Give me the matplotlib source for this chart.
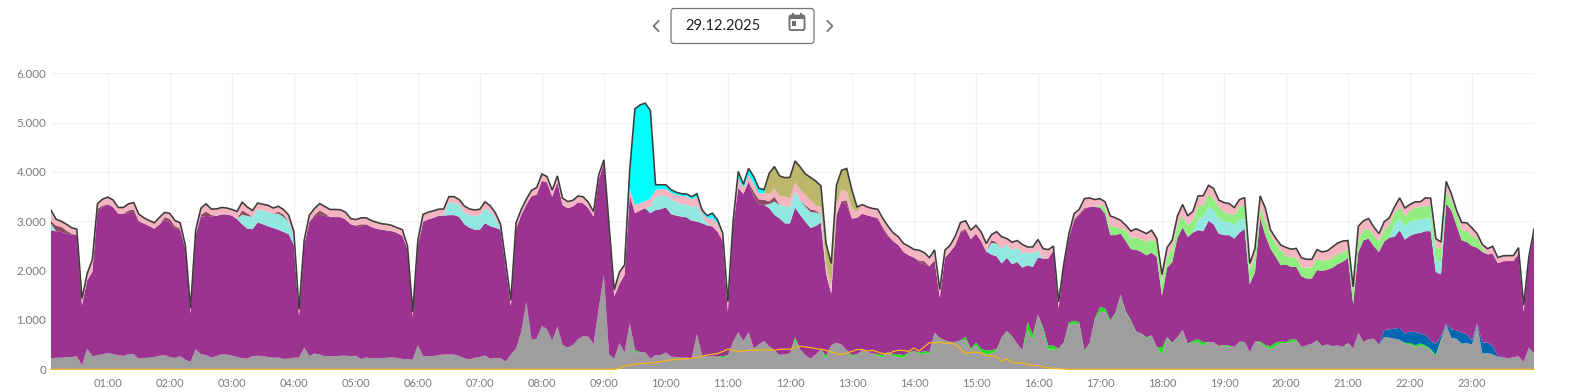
#!/usr/bin/env python3
"""Stacked power generation for one day (5 minute values), with date picker above."""

import matplotlib
matplotlib.use('Agg')
import matplotlib.pyplot as plt
import numpy as np
from matplotlib.patches import FancyBboxPatch, Rectangle

plt.rcParams['font.family'] = ['Lato', 'DejaVu Sans']

DATE_TEXT = '29.12.2025'
HOUR_LABELS = [f'{h:02d}:00' for h in range(1, 24)]
Y_TICKS = [0, 1000, 2000, 3000, 4000, 5000, 6000]
Y_LABELS = ['0', '1.000', '2.000', '3.000', '4.000', '5.000', '6.000']

# one row per hour, 12 values each: hh:05 ... hh+1:00
total = [
    3225, 3040, 3000, 2940, 2870, 2840, 1433, 1940, 2225, 3360, 3450, 3490,
    3435, 3280, 3280, 3355, 3380, 3145, 3070, 3015, 2970, 3080, 3180, 3160,
    3015, 2970, 2515, 1235, 2820, 3265, 3355, 3250, 3250, 3280, 3270, 3240,
    3200, 3390, 3290, 3220, 3370, 3345, 3325, 3270, 3305, 3240, 3125, 2790,
    1210, 2620, 3125, 3260, 3360, 3300, 3240, 3240, 3235, 3185, 3055, 3035,
    3070, 3070, 3015, 2980, 2950, 2940, 2915, 2870, 2830, 2495, 1165, 2620,
    3140, 3185, 3210, 3245, 3250, 3500, 3500, 3440, 3310, 3250, 3230, 3245,
    3395, 3315, 3170, 2940, 2180, 1400, 2970, 3240, 3450, 3630, 3685, 3960,
    3905, 3630, 3920, 3470, 3400, 3425, 3515, 3495, 3385, 3195, 3940, 4245,
    2930, 1610, 1970, 2115, 4040, 5280, 5360, 5395, 5245, 3740, 3740, 3740,
    3640, 3590, 3560, 3555, 3500, 3560, 3230, 3115, 3165, 3030, 2760, 1370,
    2995, 4010, 3750, 4075, 3905, 3670, 3640, 3975, 4110, 3920, 3885, 3890,
    4225, 4100, 3960, 3890, 3815, 3720, 2550, 2145, 3730, 4035, 4070, 3630,
    3290, 3340, 3290, 3260, 3245, 3055, 2900, 2765, 2685, 2550, 2495, 2430,
    2415, 2365, 2265, 2420, 1615, 2415, 2515, 2700, 2975, 3010, 2820, 2920,
    2785, 2550, 2730, 2790, 2685, 2650, 2575, 2610, 2530, 2480, 2480, 2630,
    2445, 2425, 2495, 1365, 2140, 2750, 3155, 3245, 3460, 3475, 3440, 3460,
    3395, 3110, 3070, 3020, 2920, 2800, 2850, 2800, 2750, 2820, 2650, 1920,
    2470, 2620, 3110, 3340, 3110, 3205, 3515, 3520, 3730, 3665, 3430, 3380,
    3360, 3280, 3440, 3480, 2145, 2450, 3515, 3270, 2830, 2660, 2520, 2470,
    2435, 2450, 2260, 2230, 2230, 2425, 2380, 2400, 2480, 2560, 2600, 2610,
    1670, 2900, 3010, 3055, 2885, 2750, 2990, 3070, 3290, 3475, 3270, 3340,
    3395, 3395, 3475, 3470, 2650, 2580, 3810, 3560, 3225, 2975, 2970, 2865,
    2750, 2530, 2445, 2495, 2265, 2300, 2305, 2305, 2465, 1300, 2280, 2840,
]

gray = [
    215, 235, 235, 250, 250, 265, 80, 420, 265, 285, 305, 330,
    310, 285, 270, 305, 305, 215, 230, 235, 250, 275, 285, 250,
    230, 265, 195, 150, 405, 305, 290, 235, 270, 300, 300, 275,
    250, 225, 215, 265, 275, 265, 250, 235, 240, 210, 215, 235,
    235, 440, 270, 320, 300, 265, 265, 265, 275, 275, 265, 275,
    205, 240, 225, 225, 225, 235, 240, 230, 210, 205, 195, 490,
    270, 265, 265, 290, 300, 300, 300, 270, 225, 200, 235, 250,
    280, 215, 225, 225, 160, 300, 420, 755, 1365, 600, 620, 880,
    810, 575, 865, 495, 440, 495, 610, 670, 660, 515, 1235, 1915,
    305, 210, 530, 345, 935, 345, 350, 345, 215, 290, 290, 340,
    255, 250, 235, 235, 225, 715, 290, 255, 270, 255, 225, 275,
    560, 750, 575, 750, 425, 505, 575, 460, 390, 290, 305, 320,
    590, 400, 285, 215, 300, 400, 215, 485, 540, 500, 385, 250,
    305, 385, 350, 320, 270, 250, 350, 265, 250, 235, 330, 360,
    305, 320, 320, 745, 640, 590, 555, 555, 590, 590, 400, 485,
    350, 305, 320, 385, 655, 755, 655, 520, 385, 790, 600, 1110,
    790, 400, 400, 420, 535, 910, 925, 910, 350, 535, 995, 1165,
    1165, 960, 1130, 1515, 1140, 975, 755, 725, 620, 690, 455, 305,
    635, 520, 655, 805, 520, 535, 555, 475, 555, 550, 475, 480,
    455, 455, 560, 555, 350, 560, 535, 465, 405, 470, 525, 535,
    555, 570, 455, 485, 520, 575, 455, 505, 470, 485, 455, 520,
    420, 735, 555, 610, 620, 485, 655, 640, 620, 600, 520, 505,
    455, 485, 455, 385, 265, 590, 910, 635, 620, 520, 535, 500,
    910, 320, 330, 305, 250, 240, 225, 240, 265, 150, 440, 320,
]

green = [0] * 12 * 9 + [
    0, 0, 0, 0, 0, 50, 0, 0, 0, 0, 0, 0,
    0, 0, 0, 0, 0, 0, 0, 0, 0, 0, 40, 10,
    0, 0, 0, 0, 0, 0, 0, 0, 0, 0, 0, 0,
    65, 0, 0, 0, 0, 0, 60, 0, 0, 0, 0, 40,
    0, 0, 0, 0, 40, 40, 0, 40, 60, 50, 15, 10,
    35, 50, 30, 0, 0, 0, 0, 0, 0, 70, 20, 60,
    70, 75, 70, 20, 0, 20, 10, 0, 0, 170, 100, 0,
    60, 80, 80, 0, 10, 40, 60, 40, 30, 0, 30, 100,
    70, 30, 20, 0, 30, 20, 10, 0, 30, 0, 0, 135,
    20, 15, 0, 0, 0, 40, 60, 70, 0, 0, 0, 15,
    25, 0, 0, 0, 0, 0, 30, 30, 60, 70, 40, 20,
    60, 30, 0, 0, 0, 10, 15, 0, 0, 0, 0, 15,
    0, 0, 0, 0, 0, 10, 0, 0, 0, 0, 15, 30,
    30, 40, 35, 30, 30, 15, 0, 0, 0, 0, 0, 0,
    0, 0, 0, 0, 0, 0, 0, 0, 0, 0, 0, 0,
]

blue = [0] * 12 * 21 + [
    0, 0, 0, 0, 0, 0, 135, 170, 205, 240, 190, 230,
    270, 205, 205, 170, 220, 70, 20, 175, 170, 225, 175, 90,
    20, 225, 210, 170, 15, 5, 0, 0, 0, 0, 0, 0,
]

turquoise = [
    130, 0, 0, 0, 0, 0, 0, 0, 0, 0, 0, 0,
    0, 0, 0, 0, 0, 0, 0, 0, 0, 0, 0, 0,
    0, 0, 0, 0, 0, 0, 0, 0, 0, 0, 0, 0,
    10, 195, 260, 250, 260, 280, 290, 290, 325, 305, 250, 150,
    0, 0, 0, 0, 0, 0, 0, 0, 0, 0, 0, 0,
    0, 0, 0, 0, 0, 0, 0, 0, 0, 0, 0, 0,
    0, 0, 0, 0, 10, 255, 255, 235, 235, 255, 280, 295,
    295, 305, 205, 10, 0, 0, 0, 0, 0, 0, 0, 0,
    0, 0, 0, 0, 0, 0, 0, 0, 0, 0, 0, 0,
    0, 0, 0, 0, 0, 0, 0, 0, 135, 270, 270, 230,
    305, 270, 250, 255, 290, 315, 155, 35, 0, 0, 0, 0,
    0, 0, 0, 0, 0, 0, 0, 85, 270, 270, 350, 325,
    320, 305, 305, 325, 275, 170, 0, 0, 0, 0, 0, 0,
    0, 0, 0, 0, 0, 0, 0, 0, 0, 0, 0, 0,
    0, 0, 0, 0, 0, 0, 0, 0, 0, 0, 0, 0,
    0, 15, 235, 260, 305, 270, 280, 295, 285, 260, 270, 150,
    0, 0, 0, 0, 0, 0, 0, 0, 0, 0, 0, 0,
    0, 0, 0, 0, 0, 0, 0, 0, 0, 0, 0, 0,
    0, 0, 0, 0, 0, 0, 235, 290, 285, 285, 305, 270,
    270, 275, 270, 190, 0, 0, 0, 0, 0, 0, 0, 0,
    0, 0, 0, 0, 0, 0, 0, 0, 0, 0, 0, 0,
    0, 0, 0, 0, 0, 0, 0, 0, 255, 235, 270, 285,
    270, 275, 255, 255, 235, 250, 0, 0, 0, 0, 0, 0,
    0, 0, 0, 0, 0, 0, 0, 0, 0, 0, 0, 0,
]

light_green = [0] * 12 * 16 + [
    0, 0, 0, 0, 0, 0, 0, 0, 0, 0, 0, 50,
    135, 185, 165, 100, 220, 230, 245, 250, 270, 285, 270, 280,
    220, 275, 250, 250, 235, 250, 250, 235, 250, 235, 240, 200,
    165, 200, 255, 285, 275, 310, 215, 280, 275, 275, 310, 175,
    190, 190, 190, 220, 220, 235, 215, 190, 205, 200, 190, 175,
    250, 250, 205, 190, 225, 220, 235, 250, 215, 235, 210, 220,
    260, 250, 250, 255, 270, 255, 235, 205, 235, 205, 220, 205,
    185, 90, 0, 0, 0, 0, 0, 0, 0, 0, 0, 0,
]

maroon = [
    60, 110, 105, 60, 20, 0, 0, 0, 0, 70, 30, 0,
    0, 0, 0, 50, 70, 20, 0, 0, 0, 0, 50, 80,
    50, 20, 0, 0, 0, 40, 90, 30, 0, 0, 0, 0,
    0, 90, 50, 0, 0, 0, 0, 0, 40, 50, 0, 0,
    0, 0, 0, 20, 85, 50, 0, 0, 0, 0, 0, 15,
    40, 0, 0, 0, 0, 0, 0, 0, 0, 0, 0, 0,
    0, 0, 0, 0, 0, 0, 0, 0, 0, 0, 0, 0,
    0, 0, 0, 0, 0, 0, 0, 0, 0, 0, 0, 0,
    0, 0, 0, 0, 0, 0, 0, 0, 0, 0, 0, 0,
    0, 0, 0, 0, 0, 0, 0, 0, 0, 0, 0, 0,
    0, 0, 0, 0, 0, 0, 0, 0, 0, 0, 0, 0,
    0, 0, 0, 0, 100, 100, 105, 55, 100, 0, 0, 0,
    0, 0, 30, 50, 40, 0, 0, 0, 0, 0, 100, 0,
    0, 0, 0, 0, 20, 30, 25, 0, 0, 0, 0, 0,
    30, 60, 0, 0, 0, 0, 0, 0, 30, 30, 0, 0,
    0, 0, 60, 20, 0, 0, 0, 0, 0, 0, 0, 0,
    0, 0, 0, 0, 0, 0, 30, 30, 30, 0, 0, 0,
] + [0] * 12 * 7

pink = [
    215, 130, 110, 130, 120, 115, 135, 140, 250, 110, 130, 145,
    145, 125, 125, 135, 140, 135, 115, 110, 120, 145, 95, 115,
    115, 120, 70, 105, 100, 135, 155, 120, 140, 140, 130, 125,
    145, 165, 130, 130, 130, 125, 135, 115, 110, 100, 135, 120,
    135, 105, 135, 130, 140, 140, 150, 155, 150, 145, 115, 120,
    130, 130, 130, 130, 120, 125, 115, 105, 125, 60, 105, 105,
    150, 145, 140, 135, 125, 120, 120, 115, 135, 125, 120, 120,
    135, 110, 95, 100, 105, 120, 120, 115, 110, 120, 145, 140,
    120, 130, 130, 140, 135, 125, 130, 130, 120, 100, 100, 60,
    70, 135, 240, 200, 120, 165, 145, 150, 155, 135, 135, 140,
    130, 150, 170, 170, 150, 180, 70, 110, 165, 170, 125, 200,
    105, 200, 115, 135, 170, 125, 135, 145, 170, 185, 190, 180,
    185, 215, 205, 190, 105, 135, 170, 130, 200, 215, 180, 205,
    120, 185, 170, 170, 170, 175, 180, 165, 170, 170, 185, 165,
    210, 175, 175, 210, 160, 155, 135, 185, 180, 160, 185, 170,
    185, 150, 110, 220, 235, 120, 165, 140, 185, 110, 135, 215,
    200, 180, 80, 135, 30, 80, 115, 90, 190, 185, 150, 130,
    105, 205, 185, 170, 100, 135, 180, 170, 170, 170, 100, 150,
    190, 170, 190, 215, 190, 185, 210, 195, 185, 205, 135, 190,
    205, 155, 145, 155, 145, 170, 225, 270, 105, 105, 100, 170,
    170, 185, 185, 170, 170, 180, 170, 190, 215, 230, 230, 175,
    100, 270, 190, 215, 165, 150, 170, 150, 135, 185, 160, 130,
    115, 105, 170, 160, 170, 150, 215, 130, 70, 155, 170, 160,
    100, 60, 115, 150, 110, 110, 110, 110, 120, 135, 35, 90,
]

olive = [0] * 12 * 11 + [
    0, 0, 0, 0, 0, 0, 0, 425, 440, 405, 385, 430,
    440, 455, 430, 460, 490, 440, 440, 480, 405, 405, 465, 370,
    100, 0, 0, 0, 0, 0, 0, 0, 0, 0, 0, 0,
] + [0] * 12 * 10

cyan = [0] * 12 * 9 + [
    0, 0, 0, 0, 385, 1950, 1995, 1980, 1790, 105, 90, 85,
    60, 55, 45, 50, 50, 70, 45, 55, 105, 70, 35, 0,
    0, 135, 80, 135, 135, 100, 70, 0, 0, 0, 0, 0,
] + [0] * 12 * 12

solar = [0] * 12 * 9 + [
    0, 0, 20, 70, 85, 100, 115, 120, 130, 140, 155, 175,
    190, 200, 210, 215, 225, 240, 265, 290, 305, 320, 360, 410,
    385, 360, 370, 385, 390, 390, 395, 395, 385, 405, 410, 405,
    440, 465, 455, 440, 420, 405, 385, 350, 320, 305, 330, 365,
    400, 400, 370, 385, 350, 320, 305, 360, 385, 380, 365, 430,
    370, 455, 540, 535, 555, 520, 540, 505, 420, 305, 345, 345,
    330, 275, 265, 250, 165, 215, 135, 125, 135, 95, 80, 75,
    50, 25, 20, 15, 5, 0, 0, 0, 0, 0, 0, 0,
] + [0] * 12 * 7

W, H = 1571, 392
LEFT, RIGHT, TOP, BOTTOM = 51, 1534, 73.3, 369.3
TEXT_COLOR = '#7b7b7b'
GRID_COLOR = '#f1f1f1'


def draw_date_picker(fig):
    """Date field with arrows and calendar icon, in pixel coordinates."""
    ov = fig.add_axes([0, 0, 1, 1], facecolor='none')
    ov.set_xlim(0, W)
    ov.set_ylim(H, 0)
    ov.axis('off')

    ov.add_patch(FancyBboxPatch((671, 8.5), 143, 35, boxstyle='round,pad=0,rounding_size=3',
                                fc='white', ec='#757575', lw=0.9))
    ov.text(685.5, 25.5, DATE_TEXT, fontsize=10.6, color='#222222', va='center', ha='left')

    # arrows
    ov.plot([658.5, 653.5, 658.5], [21, 26, 31], color='#757575', lw=1.3)
    ov.plot([827.5, 832.5, 827.5], [21, 26, 31], color='#757575', lw=1.3)

    # calendar icon
    ov.add_patch(FancyBboxPatch((789.5, 15.5), 15, 14.5, boxstyle='round,pad=0,rounding_size=1.5',
                                fc='none', ec='#6f6f6f', lw=1.3))
    ov.add_patch(Rectangle((789.5, 15.5), 15, 3.5, fc='#6f6f6f', ec='none'))
    ov.add_patch(Rectangle((792.5, 12.8), 1.6, 3, fc='#6f6f6f', ec='none'))
    ov.add_patch(Rectangle((800, 12.8), 1.6, 3, fc='#6f6f6f', ec='none'))
    ov.add_patch(Rectangle((792, 21), 4.5, 5, fc='#6f6f6f', ec='none'))


def main():
    total_arr = np.array(total, dtype=float)
    layers_above = [turquoise, light_green, maroon, pink, olive, cyan]
    below = np.array(gray, dtype=float) + np.array(green) + np.array(blue)
    above = np.sum([np.array(s, dtype=float) for s in layers_above], axis=0)
    # the main layer fills what is left up to the outline
    purple = np.clip(total_arr - below - above, 0, None)
    x = np.arange(1, len(total) + 1) * 5 / 60

    fig = plt.figure(figsize=(W / 100, H / 100), dpi=100)
    ax = fig.add_axes([LEFT / W, 1 - BOTTOM / H, (RIGHT - LEFT) / W, (BOTTOM - TOP) / H])

    ax.stackplot(x, gray, green, blue, purple, turquoise, light_green, maroon, pink, olive, cyan,
                 colors=['#9e9e9e', '#22dd22', '#0068b0', '#9c3390', '#90e8e0', '#90ee80',
                         '#8d4a60', '#f5b5c0', '#bdb76b', '#00ffff'],
                 linewidth=0, zorder=2)
    ax.plot(x, total_arr, color='#3c3c3c', lw=1.15, zorder=3, solid_joinstyle='miter')
    ax.plot(x, solar, color='#f5b21e', lw=0.95, zorder=4, clip_on=False)

    ax.set_xlim(x[0], x[-1])
    ax.set_ylim(0, 6000)
    ax.set_xticks(range(1, 24))
    ax.set_xticklabels(HOUR_LABELS)
    ax.set_yticks(Y_TICKS)
    ax.set_yticklabels(Y_LABELS)
    ax.tick_params(length=0, labelsize=7.9, labelcolor=TEXT_COLOR)
    ax.tick_params(axis='x', pad=6)
    ax.tick_params(axis='y', pad=3.5, labelsize=8.4)
    ax.grid(True, color=GRID_COLOR, lw=1.0)
    ax.set_axisbelow(True)
    for spine in ax.spines.values():
        spine.set_visible(False)

    draw_date_picker(fig)

    fig.savefig('out.png', dpi=100)
    plt.close(fig)


if __name__ == '__main__':
    main()
